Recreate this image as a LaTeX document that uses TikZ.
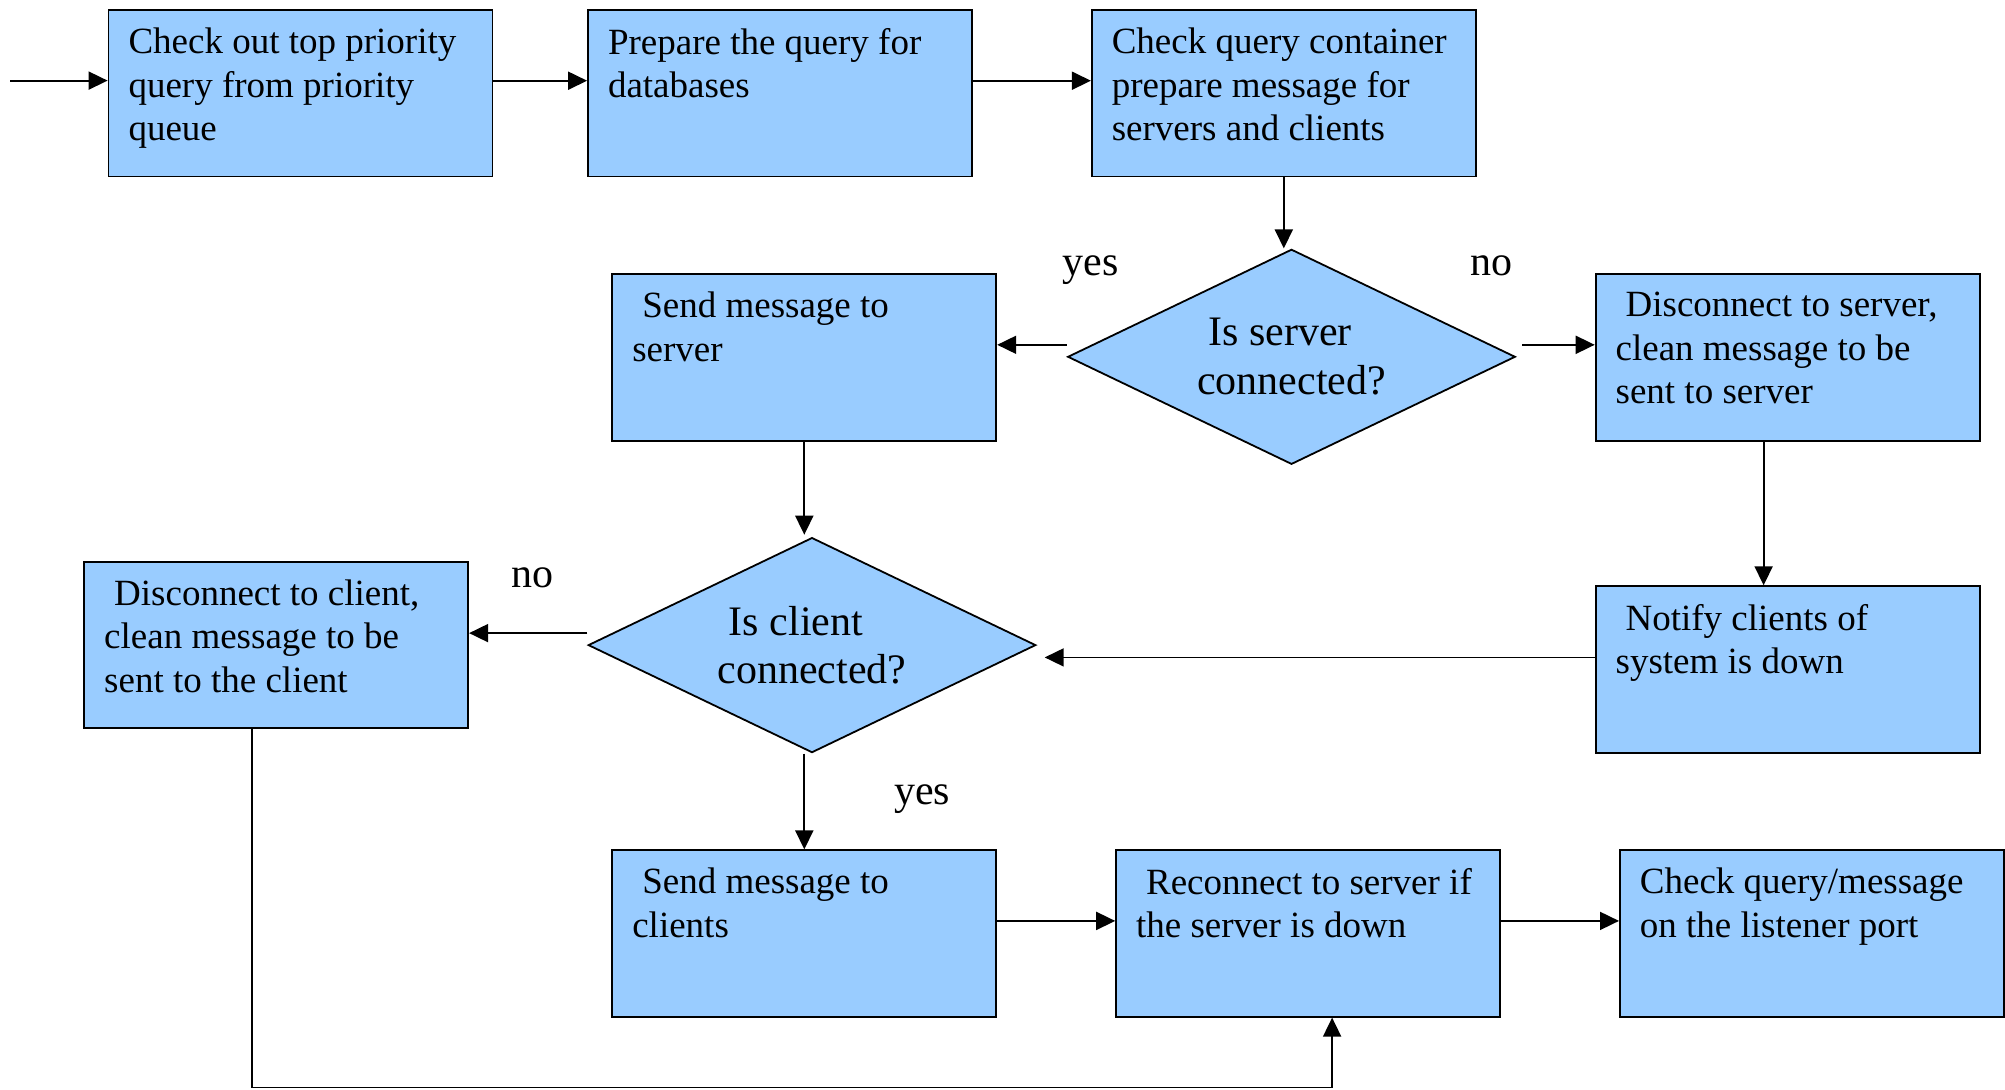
\documentclass[tikz,border=0pt]{standalone}
\usepackage{fontspec}
\setmainfont{Liberation Serif}
\usetikzlibrary{shapes.geometric,arrows.meta}
\definecolor{skyblue}{RGB}{153,204,255}
\newcommand{\steptext}[1]{\parbox[c][65.2pt][t]{172pt}{\raggedright #1}}
\tikzset{
  stepbox/.style={draw, fill=skyblue, line width=0.9pt, inner xsep=10pt, inner ysep=9pt,
    font=\fontsize{18.5}{21.7}\selectfont},
  decision/.style={diamond, aspect=2.08, draw, fill=skyblue, line width=0.9pt, inner sep=0pt,
    minimum width=223.8pt, minimum height=107.5pt, align=center,
    font=\fontsize{21}{24.3}\selectfont},
  answer/.style={anchor=base, font=\fontsize{21}{24}\selectfont},
  arr/.style={-{Triangle[length=9.5pt,width=9pt]}, line width=0.9pt},
}
\begin{document}
\begin{tikzpicture}[x=0.5pt, y=-0.5pt]
    \useasboundingbox (0,0) rectangle (2005,1089);

    % Top row
    \node[stepbox] (pick) at (300.5,93.3) {\steptext{Check out top priority\\ query from priority\\ queue}};
    \node[stepbox] (prep) at (780,93.3) {\steptext{Prepare the query for\\ databases}};
    \node[stepbox] (chk) at (1283.8,93.3) {\steptext{Check query container\\ prepare message for\\ servers and clients}};

    % Server check
    \node[decision] (dsrv) at (1291.5,356.8) {Is server\hspace*{11.5pt}\\ connected?};
    \node[stepbox] (send) at (804.3,357.4) {\steptext{\hspace*{5pt}Send message to\\ server}};
    \node[stepbox] (dcsrv) at (1787.6,357.4) {\steptext{\hspace*{5pt}Disconnect to server,\\ clean message to be\\ sent to server}};

    % Client check
    \node[decision] (dcli) at (812,645.1) {Is client\hspace*{16pt}\\ connected?};
    \node[stepbox] (dccli) at (276.2,645.1) {\steptext{\hspace*{5pt}Disconnect to client,\\ clean message to be\\ sent to the client}};
    \node[stepbox] (notify) at (1787.6,669.4) {\steptext{\hspace*{5pt}Notify clients of\\ system is down}};

    % Bottom row
    \node[stepbox] (sendc) at (804.3,933.5) {\steptext{\hspace*{5pt}Send message to\\ clients}};
    \node[stepbox] (recon) at (1308.1,933.5) {\steptext{\hspace*{5pt}Reconnect to server if\\ the server is down}};
    \node[stepbox] (listen) at (1811.9,933.5) {\steptext{Check query/message\\ on the listener port}};

    % Answers
    \node[answer] (y1) at (1090.7,275) {yes};
    \node[answer] (n1) at (1491,275) {no};
    \node[answer] (n2) at (532,587) {no};
    \node[answer] (y2) at (922,804) {yes};

    % Connectors
    \coordinate (start) at (10,80.6);
    \draw[arr] (start) -- (start -| pick.west);
    \draw[arr] ([yshift=6.3pt]pick.east) -- ([yshift=6.3pt]prep.west);
    \draw[arr] ([yshift=6.3pt]prep.east) -- ([yshift=6.3pt]chk.west);
    \draw[arr] (chk.south) -- (chk.south |- dsrv.north);

    \coordinate (s1) at ([yshift=6pt]dsrv.west);
    \coordinate (s2) at ([xshift=3pt,yshift=6pt]dsrv.east);
    \draw[arr] (s1) -- (s1 -| send.east);
    \draw[arr] (s2) -- (s2 -| dcsrv.west);
    \draw[arr] (send.south) -- ([yshift=1pt]send.south |- dcli.north);
    \draw[arr] ([xshift=-12pt]dcsrv.south) -- ([xshift=-12pt]notify.north);

    \coordinate (c1) at ([yshift=6pt]notify.west);
    \coordinate (c2) at ([yshift=6pt]dcli.west);
    \draw[arr] (c1) -- ([xshift=4pt]c1 -| dcli.east);
    \draw[arr] (c2) -- (c2 -| dccli.east);
    \draw[arr] (sendc.north |- dcli.south) -- (sendc.north);

    \draw[arr] ([yshift=6.3pt]sendc.east) -- ([yshift=6.3pt]recon.west);
    \draw[arr] ([yshift=6.3pt]recon.east) -- ([yshift=6.3pt]listen.west);

    % Loop back from client disconnect
    \coordinate (loop) at (0,1087.5);
    \coordinate (cout) at ([xshift=-12pt]dccli.south);
    \coordinate (rin) at ([xshift=12pt]recon.south);
    \draw[arr] (cout) |- (rin |- loop) -- (rin);
\end{tikzpicture}
\end{document}
